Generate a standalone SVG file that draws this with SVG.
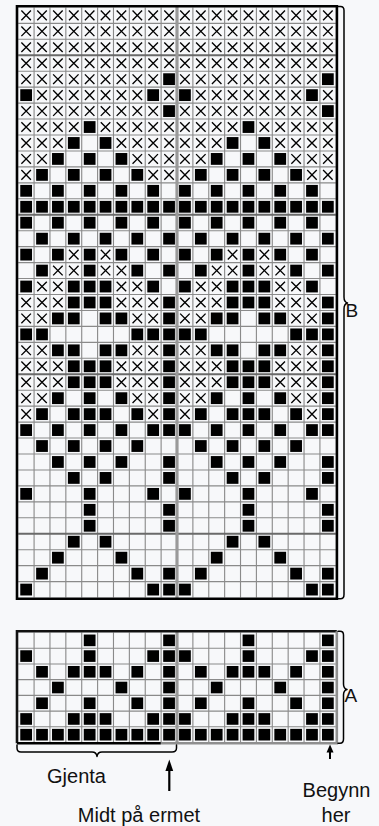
<svg xmlns="http://www.w3.org/2000/svg" xmlns:xlink="http://www.w3.org/1999/xlink" width="379" height="826" viewBox="0 0 379 826">
<style>
.grid{fill:none;stroke:#8a8a8a;stroke-width:.07}
.grid10{fill:none;stroke:#6a6a6a;stroke-width:.12}
.mid{fill:none;stroke:#9a9a9a;stroke-width:.2}
.bx{fill:#000}
.cx{fill:none;stroke:#000;stroke-width:.085}
.brace{fill:none;stroke:#000;stroke-width:1.5;stroke-linecap:round;stroke-linejoin:round}
.lbl{font-family:"Liberation Sans",Arial,Helvetica,sans-serif;fill:#111}
</style>
<defs>
<rect id="b" class="bx" x=".13" y=".13" width=".74" height=".74"/>
<path id="x" class="cx" d="M.2 .2L.8 .8M.8 .2L.2 .8"/>
<g id="xr"><use href="#x" x="0"/><use href="#x" x="1"/><use href="#x" x="2"/><use href="#x" x="3"/><use href="#x" x="4"/><use href="#x" x="5"/><use href="#x" x="6"/><use href="#x" x="7"/><use href="#x" x="8"/><use href="#x" x="9"/></g>
<g id="br"><use href="#b" x="0"/><use href="#b" x="1"/><use href="#b" x="2"/><use href="#b" x="3"/><use href="#b" x="4"/><use href="#b" x="5"/><use href="#b" x="6"/><use href="#b" x="7"/><use href="#b" x="8"/><use href="#b" x="9"/></g>
<g id="p19"><use href="#x" x="0"/><use href="#x" x="1"/><use href="#x" x="2"/><use href="#b" x="3"/><use href="#b" x="4"/><use href="#b" x="5"/><use href="#x" x="6"/><use href="#x" x="7"/><use href="#x" x="8"/><use href="#b" x="9"/></g>
<g id="p20"><use href="#x" x="0"/><use href="#x" x="1"/><use href="#b" x="2"/><use href="#b" x="3"/><use href="#b" x="5"/><use href="#b" x="6"/><use href="#x" x="7"/><use href="#x" x="8"/><use href="#b" x="9"/></g>
<g id="halfB">
<use href="#xr" y="0"/><use href="#xr" y="1"/><use href="#xr" y="2"/><use href="#xr" y="3"/>
<g transform="translate(0,4)"><use href="#x" x="0"/><use href="#x" x="1"/><use href="#x" x="2"/><use href="#x" x="3"/><use href="#x" x="4"/><use href="#x" x="5"/><use href="#x" x="6"/><use href="#x" x="7"/><use href="#x" x="8"/><use href="#b" x="9"/></g>
<g transform="translate(0,5)"><use href="#b" x="0"/><use href="#x" x="1"/><use href="#x" x="2"/><use href="#x" x="3"/><use href="#x" x="4"/><use href="#x" x="5"/><use href="#x" x="6"/><use href="#x" x="7"/><use href="#b" x="8"/><use href="#x" x="9"/></g>
<g transform="translate(0,6)"><use href="#x" x="0"/><use href="#x" x="1"/><use href="#x" x="2"/><use href="#x" x="3"/><use href="#x" x="4"/><use href="#x" x="5"/><use href="#x" x="6"/><use href="#x" x="7"/><use href="#x" x="8"/><use href="#b" x="9"/></g>
<g transform="translate(0,7)"><use href="#x" x="0"/><use href="#x" x="1"/><use href="#x" x="2"/><use href="#x" x="3"/><use href="#b" x="4"/><use href="#x" x="5"/><use href="#x" x="6"/><use href="#x" x="7"/><use href="#x" x="8"/><use href="#x" x="9"/></g>
<g transform="translate(0,8)"><use href="#x" x="0"/><use href="#x" x="1"/><use href="#x" x="2"/><use href="#b" x="3"/><use href="#b" x="5"/><use href="#x" x="6"/><use href="#x" x="7"/><use href="#x" x="8"/><use href="#x" x="9"/></g>
<g transform="translate(0,9)"><use href="#x" x="0"/><use href="#x" x="1"/><use href="#b" x="2"/><use href="#b" x="4"/><use href="#b" x="6"/><use href="#x" x="7"/><use href="#x" x="8"/><use href="#x" x="9"/></g>
<g transform="translate(0,10)"><use href="#x" x="0"/><use href="#b" x="1"/><use href="#b" x="3"/><use href="#b" x="5"/><use href="#b" x="7"/><use href="#x" x="8"/><use href="#x" x="9"/></g>
<g transform="translate(0,11)"><use href="#b" x="0"/><use href="#b" x="2"/><use href="#b" x="4"/><use href="#b" x="6"/><use href="#b" x="8"/></g>
<use href="#br" y="12"/>
<g transform="translate(0,13)"><use href="#b" x="0"/><use href="#b" x="2"/><use href="#b" x="4"/><use href="#b" x="6"/><use href="#b" x="8"/></g>
<g transform="translate(0,14)"><use href="#b" x="1"/><use href="#b" x="3"/><use href="#b" x="5"/><use href="#b" x="7"/><use href="#b" x="9"/></g>
<g transform="translate(0,15)"><use href="#b" x="0"/><use href="#b" x="2"/><use href="#x" x="3"/><use href="#b" x="4"/><use href="#x" x="5"/><use href="#b" x="6"/><use href="#b" x="8"/></g>
<g transform="translate(0,16)"><use href="#b" x="1"/><use href="#x" x="2"/><use href="#x" x="3"/><use href="#b" x="4"/><use href="#x" x="5"/><use href="#x" x="6"/><use href="#b" x="7"/><use href="#b" x="9"/></g>
<g transform="translate(0,17)"><use href="#b" x="0"/><use href="#x" x="1"/><use href="#x" x="2"/><use href="#b" x="3"/><use href="#b" x="4"/><use href="#b" x="5"/><use href="#x" x="6"/><use href="#x" x="7"/><use href="#b" x="8"/></g>
<use href="#p19" y="18"/>
<use href="#p20" y="19"/>
<g transform="translate(0,20)"><use href="#b" x="0"/><use href="#b" x="1"/><use href="#b" x="7"/><use href="#b" x="8"/><use href="#b" x="9"/></g>
<use href="#p20" y="21"/>
<use href="#p19" y="22"/>
<use href="#p19" y="23"/>
<g transform="translate(0,24)"><use href="#x" x="0"/><use href="#x" x="1"/><use href="#b" x="2"/><use href="#b" x="4"/><use href="#b" x="6"/><use href="#x" x="7"/><use href="#x" x="8"/><use href="#b" x="9"/></g>
<g transform="translate(0,25)"><use href="#x" x="0"/><use href="#b" x="1"/><use href="#b" x="3"/><use href="#b" x="4"/><use href="#b" x="5"/><use href="#b" x="7"/><use href="#x" x="8"/><use href="#b" x="9"/></g>
<g transform="translate(0,26)"><use href="#b" x="0"/><use href="#b" x="2"/><use href="#b" x="4"/><use href="#b" x="6"/><use href="#b" x="8"/><use href="#b" x="9"/></g>
<g transform="translate(0,27)"><use href="#b" x="1"/><use href="#b" x="3"/><use href="#b" x="5"/><use href="#b" x="7"/></g>
<g transform="translate(0,28)"><use href="#b" x="2"/><use href="#b" x="4"/><use href="#b" x="6"/><use href="#b" x="9"/></g>
<g transform="translate(0,29)"><use href="#b" x="3"/><use href="#b" x="5"/><use href="#b" x="9"/></g>
<g transform="translate(0,30)"><use href="#b" x="0"/><use href="#b" x="4"/><use href="#b" x="8"/></g>
<g transform="translate(0,31)"><use href="#b" x="4"/><use href="#b" x="9"/></g>
<g transform="translate(0,32)"><use href="#b" x="4"/><use href="#b" x="9"/></g>
<g transform="translate(0,33)"><use href="#b" x="3"/><use href="#b" x="5"/></g>
<g transform="translate(0,34)"><use href="#b" x="2"/><use href="#b" x="6"/></g>
<g transform="translate(0,35)"><use href="#b" x="1"/><use href="#b" x="7"/><use href="#b" x="9"/></g>
<g transform="translate(0,36)"><use href="#b" x="0"/><use href="#b" x="8"/><use href="#b" x="9"/></g>
</g>
<g id="halfA">
<g transform="translate(0,0)"><use href="#b" x="4"/><use href="#b" x="9"/></g>
<g transform="translate(0,1)"><use href="#b" x="0"/><use href="#b" x="4"/><use href="#b" x="8"/><use href="#b" x="9"/></g>
<g transform="translate(0,2)"><use href="#b" x="1"/><use href="#b" x="3"/><use href="#b" x="4"/><use href="#b" x="5"/><use href="#b" x="7"/><use href="#b" x="9"/></g>
<g transform="translate(0,3)"><use href="#b" x="2"/><use href="#b" x="6"/><use href="#b" x="9"/></g>
<g transform="translate(0,4)"><use href="#b" x="1"/><use href="#b" x="4"/><use href="#b" x="7"/><use href="#b" x="9"/></g>
<g transform="translate(0,5)"><use href="#b" x="0"/><use href="#b" x="3"/><use href="#b" x="4"/><use href="#b" x="5"/><use href="#b" x="8"/><use href="#b" x="9"/></g>
<use href="#br" y="6"/>
</g>
</defs>
<rect width="379" height="826" fill="#f7f8fa"/>

<g id="chart-B">
<g transform="translate(18.2,7.4) scale(15.88,15.95)">
<path class="grid" d="M1 0V37M2 0V37M3 0V37M4 0V37M5 0V37M6 0V37M7 0V37M8 0V37M9 0V37M11 0V37M12 0V37M13 0V37M14 0V37M15 0V37M16 0V37M17 0V37M18 0V37M19 0V37M0 1H20M0 2H20M0 4H20M0 5H20M0 6H20M0 7H20M0 8H20M0 9H20M0 10H20M0 11H20M0 12H20M0 14H20M0 15H20M0 16H20M0 17H20M0 18H20M0 19H20M0 20H20M0 21H20M0 22H20M0 24H20M0 25H20M0 26H20M0 27H20M0 28H20M0 29H20M0 30H20M0 31H20M0 32H20M0 34H20M0 35H20M0 36H20"/>
<path class="grid10" d="M0 3H20M0 13H20M0 23H20M0 33H20"/>
<use href="#halfB"/>
<use href="#halfB" x="10"/>
<path class="mid" d="M10 -.1V37.1"/>
</g>
<path d="M17 6.2H336.9V598.8H17Z" fill="none" stroke="#000" stroke-width="2.6"/>
</g>

<g id="chart-A">
<g transform="translate(18.2,632.5) scale(15.88,15.72)">
<path class="grid" d="M1 0V7M2 0V7M3 0V7M4 0V7M5 0V7M6 0V7M7 0V7M8 0V7M9 0V7M11 0V7M12 0V7M13 0V7M14 0V7M15 0V7M16 0V7M17 0V7M18 0V7M19 0V7M0 1H20M0 2H20M0 3H20M0 4H20M0 5H20M0 6H20"/>
<use href="#halfA"/>
<use href="#halfA" x="10"/>
<path class="mid" d="M10 -.1V7.1"/>
</g>
<path d="M17 743.2V631.3H336.8" fill="none" stroke="#111" stroke-width="2.6"/>
<path d="M336.8 631.3V743.2H160.8" fill="none" stroke="#8f8f8f" stroke-width="2.6"/>
<path d="M17 743.2H160.8" fill="none" stroke="#000" stroke-width="2.6"/>
</g>

<g id="connectors">
<path class="brace" d="M338 6.5H340.5Q344 6.5 344 10.5V297Q344 302 347.5 303Q344 304 344 309V594.5Q344 598.8 340.5 598.8H338"/>
<path class="brace" d="M338 631.3H340Q343.5 631.3 343.5 635V684Q343.5 688.5 347 689.5Q343.5 690.5 343.5 695V739Q343.5 743.2 340 743.2H338"/>
<path class="brace" d="M17 745V748Q17 752 21 752H92Q96.5 752 97 756.5Q97.5 752 102 752H172Q176.5 752 176.5 748V745"/>
<path d="M169.3 770V791" stroke="#000" stroke-width="2.2" fill="none"/>
<path d="M169.3 759.5L173.2 771H165.4Z" fill="#000"/>
<path d="M330 750V759" stroke="#000" stroke-width="2" fill="none"/>
<path d="M330 744.5L333.5 752.5H326.5Z" fill="#000"/>
</g>

<g id="labels">
<text class="lbl" x="345.5" y="316.5" font-size="19">B</text>
<text class="lbl" x="344.5" y="701.5" font-size="19">A</text>
<text class="lbl" x="76.5" y="783" font-size="20" text-anchor="middle">Gjenta</text>
<text class="lbl" x="139" y="821.5" font-size="20" text-anchor="middle">Midt på ermet</text>
<text class="lbl" x="336.5" y="796.5" font-size="20" text-anchor="middle">Begynn</text>
<text class="lbl" x="336" y="821.5" font-size="20" text-anchor="middle">her</text>
</g>
</svg>
